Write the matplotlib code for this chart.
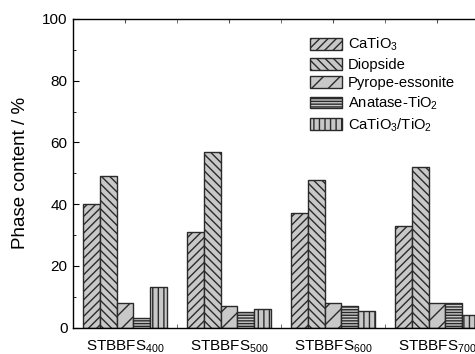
import matplotlib
matplotlib.use("Agg")
import matplotlib.pyplot as plt
import numpy as np

plt.rcParams['font.family'] = ['Liberation Sans', 'DejaVu Sans']
plt.rcParams['mathtext.fontset'] = 'custom'
plt.rcParams['mathtext.rm'] = 'Liberation Sans'
plt.rcParams['mathtext.it'] = 'Liberation Sans'
plt.rcParams['hatch.linewidth'] = 1.0

SAMPLES = ["STBBFS$_{400}$", "STBBFS$_{500}$", "STBBFS$_{600}$", "STBBFS$_{700}$"]
PHASES = ["CaTiO$_3$", "Diopside", "Pyrope-essonite", "Anatase-TiO$_2$", "CaTiO$_3$/TiO$_2$"]
CATIO3 = [40, 31, 37, 33]
DIOPSIDE = [49, 57, 48, 52]
PYROPE = [8, 7, 8, 8]
ANATASE = [3, 5, 7, 8]
CATIO3_TIO2 = [13.3, 6.2, 5.3, 4]

series = [CATIO3, DIOPSIDE, PYROPE, ANATASE, CATIO3_TIO2]
hatches = ["////", "\\\\\\\\", "//", "------", "|||"]

fig = plt.figure(figsize=(4.75, 3.54), dpi=100)
ax = fig.add_axes([73 / 475, 1 - 327.7 / 354, 416 / 475, 308.7 / 354])

x = np.arange(len(SAMPLES))
w = 0.16
for j, (vals, h, lab) in enumerate(zip(series, hatches, PHASES)):
    ax.bar(x + (j - 2) * w, vals, w, facecolor='#c8c8c8', edgecolor='#2a2a2a',
           hatch=h, linewidth=1.0, label=lab, zorder=2)

ax.set_xlim(-0.5, 3.5)
ax.set_ylim(0, 100)
ax.set_xticks(x)
ax.set_xticklabels(SAMPLES, fontsize=11)
ax.set_xticks(x[:-1] + 0.5, minor=True)
ax.set_yticks(np.arange(0, 101, 20))
ax.set_yticks(np.arange(10, 100, 20), minor=True)
ax.tick_params(axis='y', which='major', direction='in', length=4, labelsize=11, pad=4)
ax.tick_params(axis='y', which='minor', direction='in', length=2)
ax.tick_params(axis='x', which='both', direction='in', length=3, top=True, pad=8, color='#555555')
ax.set_ylabel("Phase content / %", fontsize=13.5, labelpad=9)

for s in ax.spines.values():
    s.set_linewidth(1.0)

ax.legend(loc='upper left', bbox_to_anchor=(310 / 475, 1 - 36 / 354),
          bbox_transform=fig.transFigure, frameon=False, fontsize=10.6,
          borderpad=0, borderaxespad=0, handlelength=2.2, handleheight=0.85,
          handletextpad=0.35, labelspacing=0.3)

fig.savefig("out.png", dpi=100)
